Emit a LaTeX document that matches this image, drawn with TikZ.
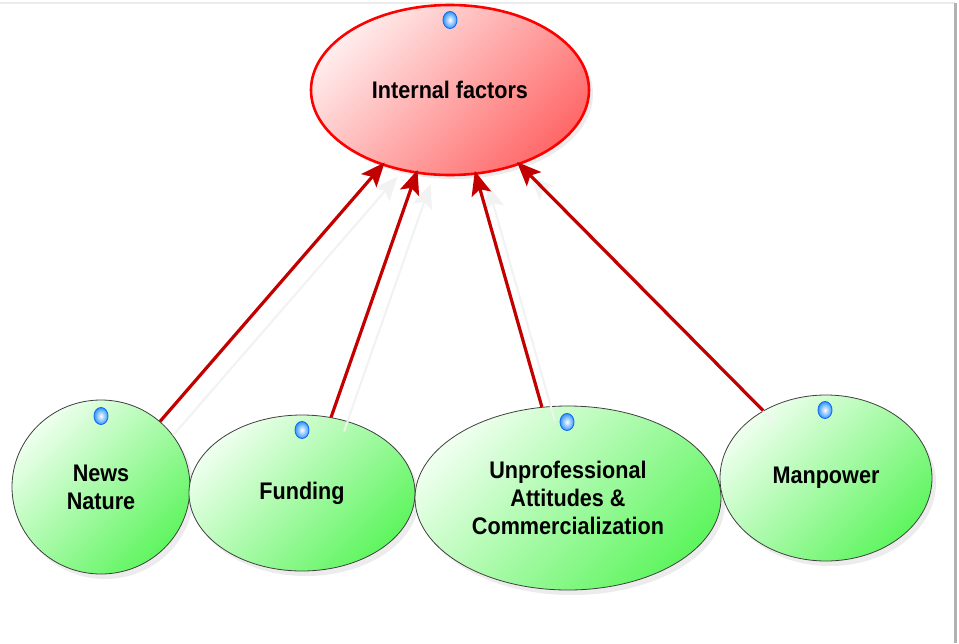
\documentclass[tikz,border=0pt]{standalone}
\usepackage{fontspec}
\setmainfont{Liberation Sans}[FakeStretch=0.9]
\usetikzlibrary{shapes.geometric,shadows,arrows.meta}
\definecolor{redline}{RGB}{255,0,0}
\definecolor{redlight}{RGB}{255,236,236}
\definecolor{reddark}{RGB}{255,105,105}
\definecolor{greenlight}{RGB}{238,255,238}
\definecolor{greendark}{RGB}{95,245,95}
\definecolor{arrowred}{RGB}{195,0,0}
\definecolor{dotblue}{RGB}{20,110,235}
\definecolor{dotfill}{RGB}{50,150,255}
\tikzset{
  lbl/.style={font=\fontsize{24}{28}\selectfont\bfseries, align=center, text=black},
  goal/.style={ellipse, draw=redline, line width=2.6pt, top color=redlight, bottom color=reddark, shading angle=45, inner sep=0pt, lbl,
     drop shadow={shadow xshift=4pt, shadow yshift=-4pt, opacity=0.15}},
  factor/.style={ellipse, draw=black!75, line width=0.8pt, top color=greenlight, bottom color=greendark, shading angle=45, inner sep=0pt, lbl,
     drop shadow={shadow xshift=4pt, shadow yshift=-5pt, opacity=0.15}},
  knob/.style={ellipse, draw=dotblue, line width=0.9pt, inner color=white, outer color=dotfill, minimum width=14pt, minimum height=17pt, inner sep=0pt},
  link/.style={draw=arrowred, line width=3.2pt, -{Stealth[length=24pt,width=20pt,inset=5pt]}, shorten >=-4pt,
     preaction={draw=black!5, line width=2pt, transform canvas={shift={(13pt,-14pt)}}}},
}
\begin{document}
\begin{tikzpicture}[x=1pt,y=-1pt]
\useasboundingbox (0,0) rectangle (959,643);
\fill[white] (0,0) rectangle (959,643);
\draw[black!8, line width=1.5pt] (0,3) -- (955,3);
\draw[black!30, line width=3pt] (955,3) -- (955,643);

\node[goal, minimum width=278pt, minimum height=170pt] (int) at (450,90) {Internal factors};
\node[factor, minimum width=178pt, minimum height=174pt] (news) at (101,487) {News\\Nature};
\node[factor, minimum width=226pt, minimum height=156pt] (fund) at (302,493) {Funding};
\node[factor, minimum width=306pt, minimum height=184pt] (unpro) at (568,498) {Unprofessional\\Attitudes \&\\Commercialization};
\node[factor, minimum width=212pt, minimum height=166pt] (man) at (826,478) {Manpower};

\node[knob] (k0) at (450,20) {};
\node[knob] (k1) at (101,416) {};
\node[knob] (k2) at (302,430) {};
\node[knob] (k3) at (567,422) {};
\node[knob] (k4) at (825,410) {};

\draw[link] (news.48.6) -- (int.228.2);
\draw[link] (fund.69.6) -- (int.248.9);
\draw[link] (unpro.106.7) -- (int.287);
\draw[link] (man.133.3) -- (int.313.8);
\end{tikzpicture}
\end{document}
